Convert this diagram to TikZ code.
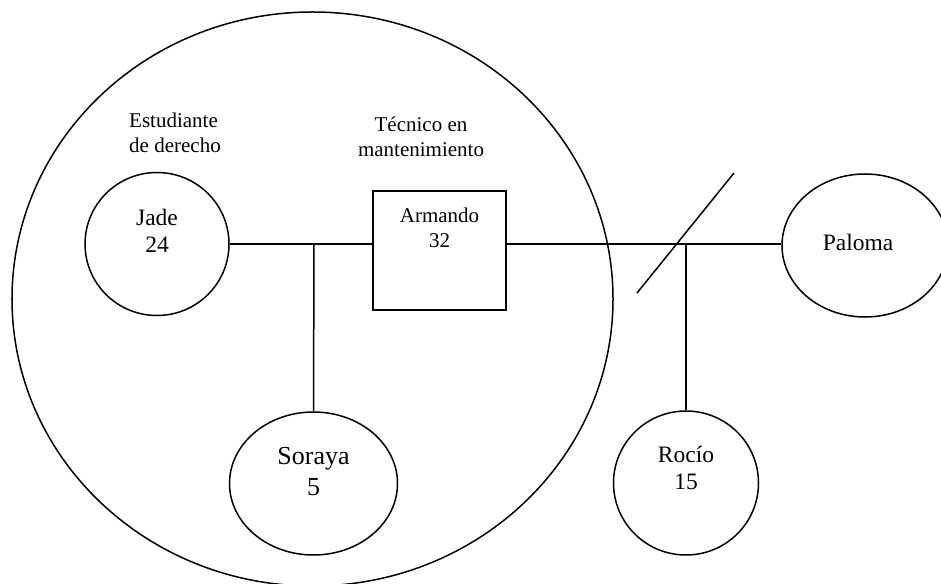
\documentclass[tikz,border=0pt]{standalone}
\usepackage{fontspec}
\setmainfont{Liberation Serif}
\usetikzlibrary{shapes.geometric}
\tikzset{
  ln/.style={line width=1.5bp, black},
  person/.style={ellipse, draw, line width=1.5bp, inner sep=0pt},
  manbox/.style={rectangle, draw, line width=1.5bp, inner sep=0pt},
  txt/.style={align=center, inner sep=0pt, font=\fontsize{21bp}{25bp}\selectfont},
  txtb/.style={align=center, inner sep=0pt, font=\fontsize{23.5bp}{27bp}\selectfont},
  txtc/.style={align=center, inner sep=0pt, font=\fontsize{26bp}{31bp}\selectfont},
}
\begin{document}
\begin{tikzpicture}[x=1bp,y=-1bp]
\useasboundingbox (0,0) rectangle (941,584);
% household circle
\node[person, minimum width=601bp, minimum height=574bp] (home) at (312.5,299) {};
% persons
\node[person, minimum width=144bp, minimum height=143bp] (jade) at (157,244) {};
\node[manbox, minimum width=133bp, minimum height=119bp] (arm) at (439.5,250.5) {};
\node[person, minimum width=168bp, minimum height=143bp] (soraya) at (313.5,483.5) {};
\node[person, minimum width=145bp, minimum height=144bp] (rocio) at (686,483) {};
\node[person, minimum width=166bp, minimum height=143bp] (paloma) at (865,245.5) {};
% texts
\node[txtb] (jadeT) at (157,231) {Jade\\24};
\node[txt] (armT) at (439.5,228) {Armando\\32};
\node[txtc] (sorayaT) at (313.5,472) {Soraya\\5};
\node[txtb] (rocioT) at (686,468) {Rocío\\15};
\node[txtb] (palomaT) at (858,242) {Paloma};
\node[txt, align=left] (estT) at (175,133) {Estudiante\\de derecho};
\node[txt] (tecT) at (421,137) {Técnico en\\mantenimiento};
% connectors
\coordinate (j1) at (314,244);
\coordinate (j2) at (686,244);
\coordinate (s1) at (637,293);
\coordinate (s2) at (734,173);
\draw[ln] (jade.east |- j1) -- (arm.west |- j1);
\draw[ln] (j1) -- (soraya.north);
\draw[ln] (arm.east |- j1) -- (paloma.west |- j1);
\draw[ln] (j2) -- (rocio.north);
\draw[ln] (s1) -- (s2);
\end{tikzpicture}
\end{document}
